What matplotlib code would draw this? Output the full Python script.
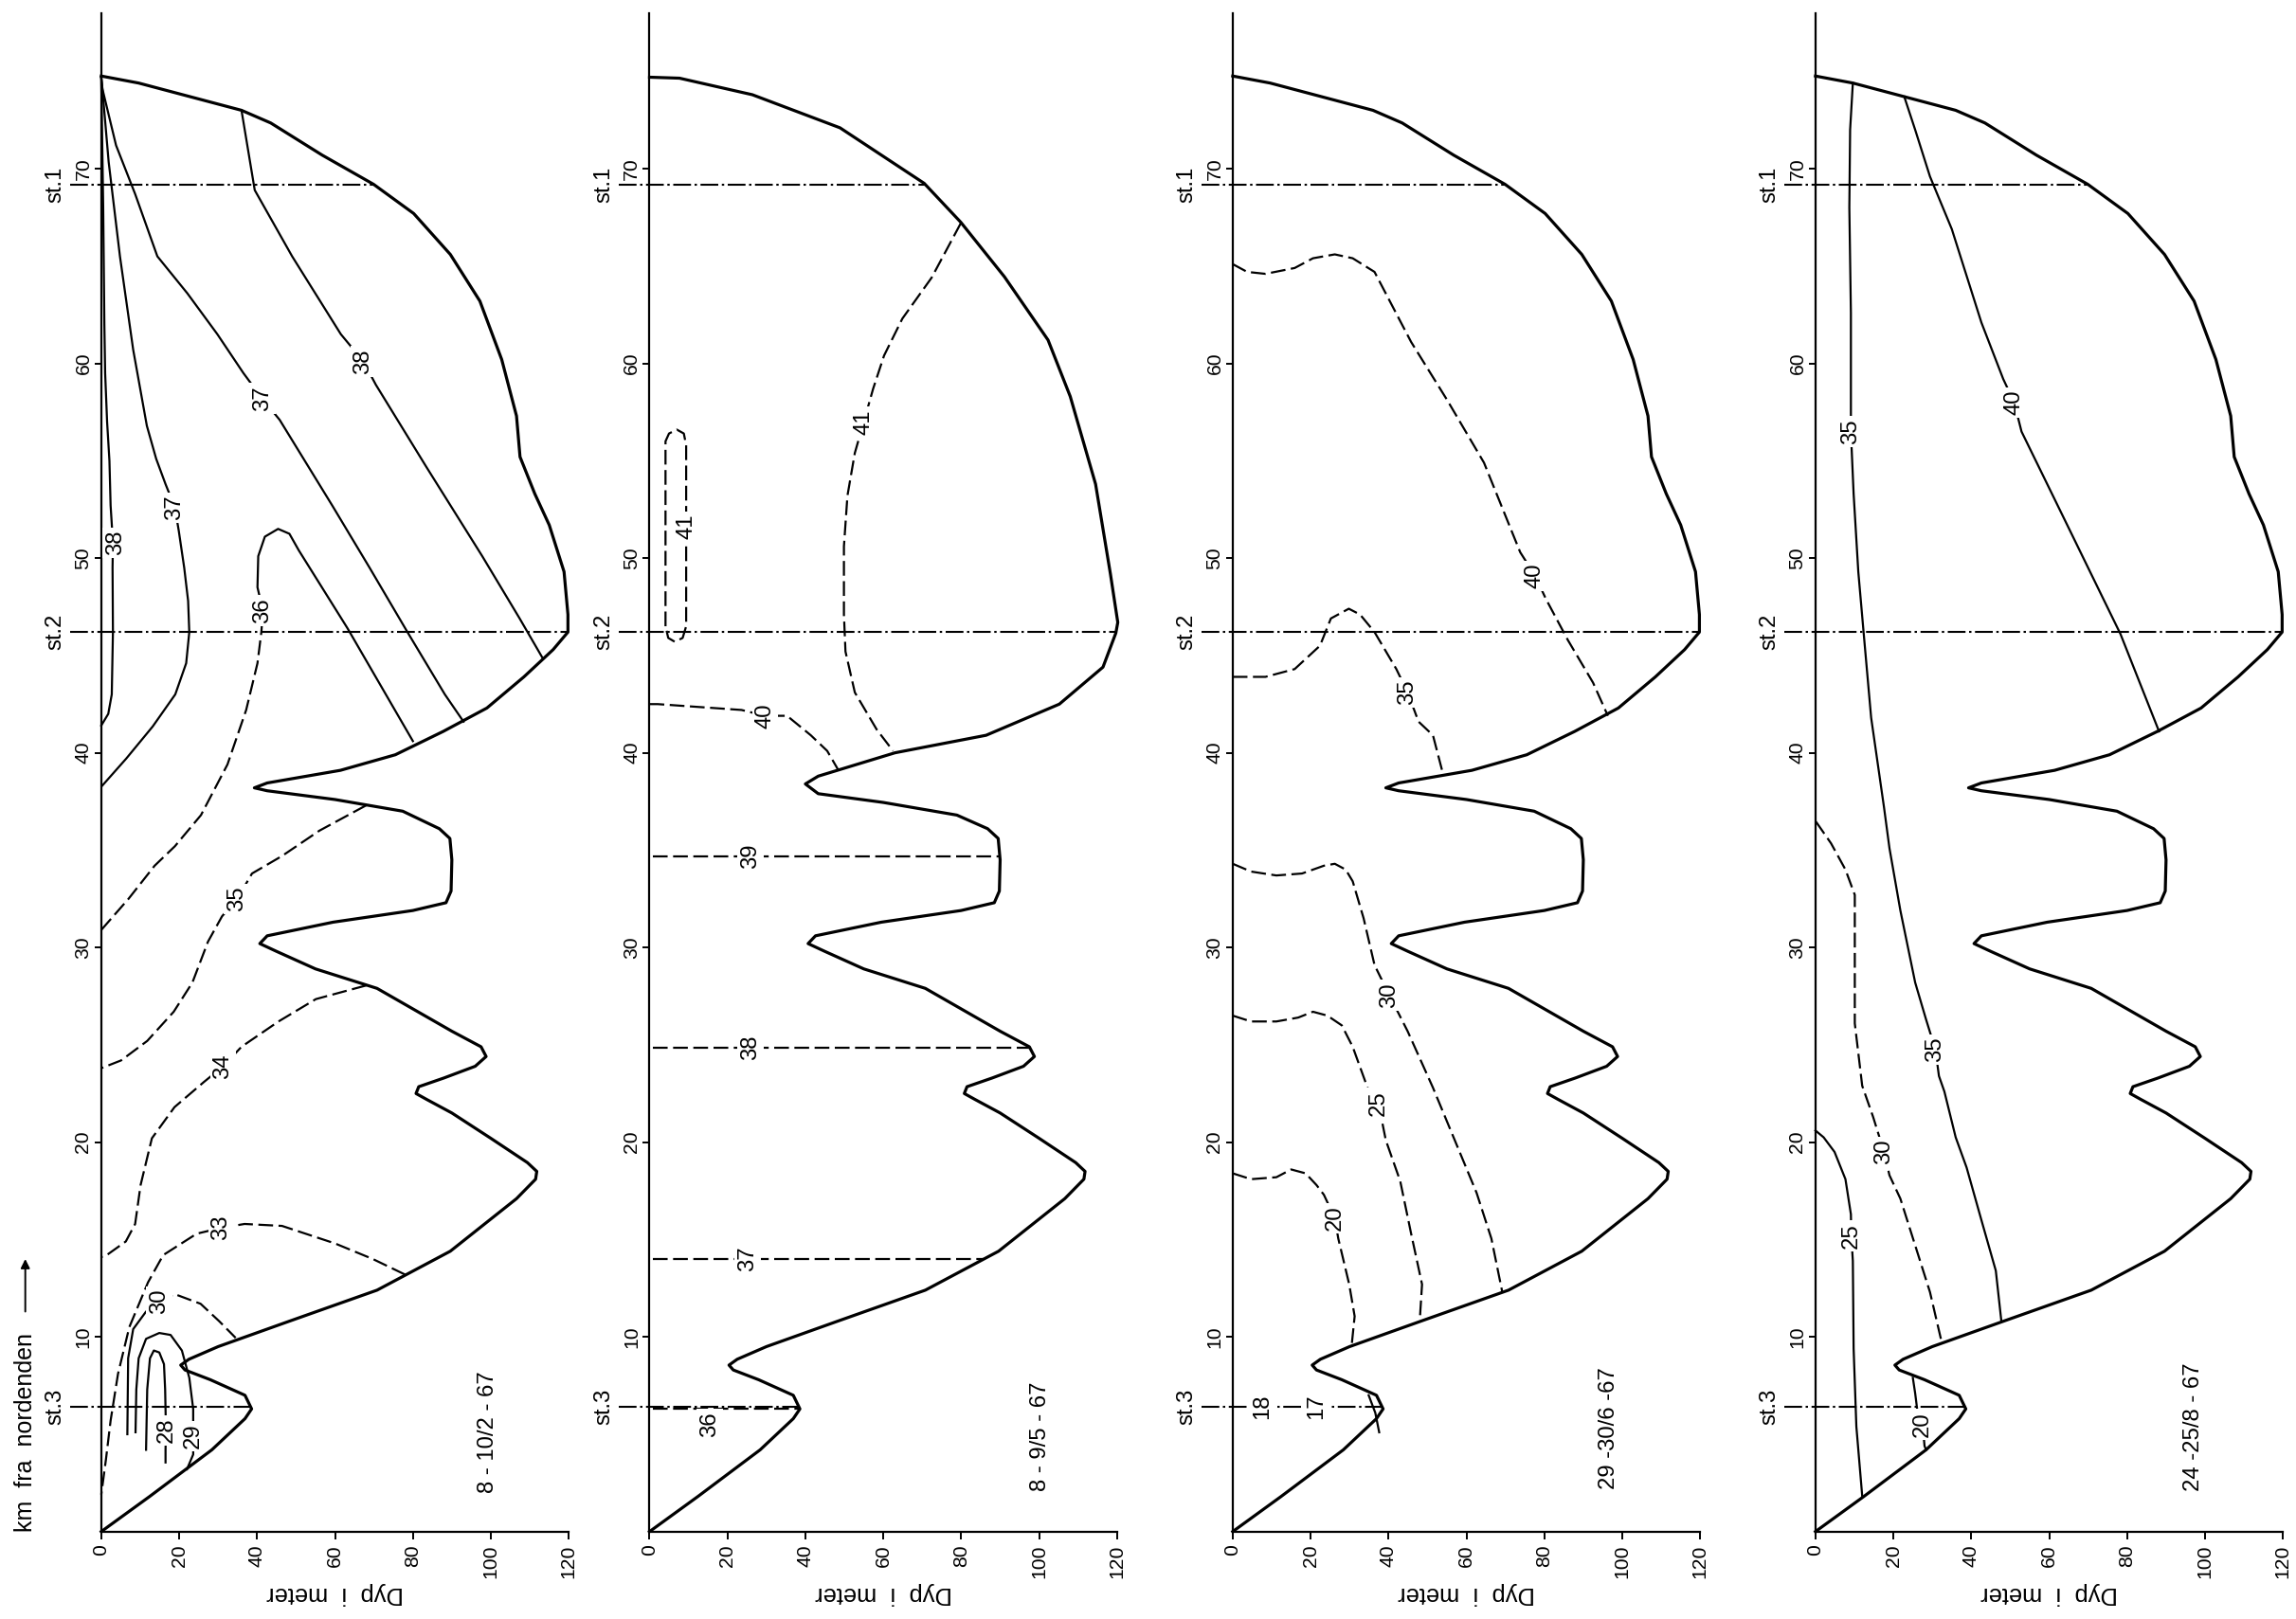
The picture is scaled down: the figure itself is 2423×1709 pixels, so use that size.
import numpy as np
import matplotlib
matplotlib.use("Agg")
import matplotlib.pyplot as plt

plt.rcParams['font.family'] = ['Liberation Sans', 'DejaVu Sans']

# ------------------------------------------------------------------ data
km_ticks = [10, 20, 30, 40, 50, 60, 70]
depth_ticks = [0, 20, 40, 60, 80, 100, 120]
station_names = ['st.3', 'st.2', 'st.1']
station_km = [6.4, 46.2, 69.2]
panel_dates = ['8 - 10/2 - 67', '8 - 9/5 - 67', '29 -30/6 -67', '24 -25/8 - 67']
date_pos = [(99.2, 5.1), (100.4, 4.9), (96.7, 5.3), (97.2, 5.4)]

# bottom profile (depth m, km) -- southern part shared by all panels
bottom_south = [(0, 0), (12.4, 1.8), (28.4, 4.2), (36.9, 5.8), (38.6, 6.3), (36.9, 7.0),
                (28.0, 7.8), (21.5, 8.3), (20.4, 8.55), (22.5, 8.85), (30.0, 9.5),
                (48.2, 10.8), (70.8, 12.4), (89.6, 14.4), (106.6, 17.1), (111.5, 18.1),
                (111.8, 18.5), (109.4, 18.95), (100, 20.2), (90, 21.5), (83.5, 22.2),
                (80.8, 22.5), (81.5, 22.85), (88, 23.3), (96, 23.9), (98.8, 24.4),
                (97.5, 24.9), (90, 25.7), (70.8, 27.9), (55, 28.9), (45, 29.8),
                (40.7, 30.2), (42.6, 30.6), (59.5, 31.3), (80, 31.9), (88.5, 32.3),
                (89.8, 32.9), (90, 34.5), (89.5, 35.6), (86.8, 36.1)]
# northern part, panels 1, 3, 4
bottom_north_a = [(77.4, 37.0), (60, 37.6), (42.6, 38.05), (39.3, 38.2), (42.6, 38.45),
                  (61.4, 39.1), (75.5, 39.9), (87.8, 41.1), (99, 42.3), (108.5, 43.9),
                  (116, 45.3), (119.8, 46.2), (119.8, 47.1), (118.8, 49.3), (115, 51.7),
                  (111.3, 53.3), (107.5, 55.2), (106.6, 57.3), (102.8, 60.2), (97.2, 63.2),
                  (89.6, 65.6), (80.2, 67.7), (69.9, 69.2), (56.7, 70.7), (43.5, 72.35),
                  (36, 73.0), (22.8, 73.7), (9.6, 74.4), (0, 74.76)]
# northern part, panel 2
bottom_north_b = [(78.9, 36.8), (60, 37.45), (43.3, 37.9), (40, 38.4), (43.3, 38.8),
                  (63, 40.0), (86.4, 40.9), (105.2, 42.5), (116.4, 44.4), (119.7, 46.15),
                  (120.2, 46.7), (118.3, 49.2), (114.5, 53.8), (108, 58.3), (102.3, 61.2),
                  (91.1, 64.45), (79.9, 67.25), (70.5, 69.25), (48.9, 72.1), (26.4, 73.8),
                  (7.7, 74.65), (0, 74.7)]

# ---- panel 1 (8-10/2-67) isolines (depth, km)
p1_38a = [(0, 74.7), (0.5, 68), (0.8, 62), (1.0, 59.5), (1.5, 57.0), (2.1, 55.0), (2.4, 52.7),
          (3.0, 50.8), (2.9, 49.5), (3.0, 46.2), (2.7, 43.0), (1.8, 42.0), (0.3, 41.5), (0, 41.4)]
p1_37a = [(0, 74.7), (0.2, 74.3), (1.9, 70.35), (4.8, 65.5), (8.2, 60.7), (11.7, 56.8),
          (14.1, 55.1), (16.5, 53.8), (18.9, 52.6), (19.9, 51.4), (21.3, 49.5), (22.3, 47.8),
          (22.6, 46.2), (21.8, 44.6), (19.0, 43.0), (13.2, 41.35), (6.4, 39.7), (0.2, 38.3)]
p1_37b = [(0, 74.7), (0.3, 74.1), (3.8, 71.2), (8.7, 68.7), (14.4, 65.5), (22.1, 63.6),
          (29.8, 61.5), (36.5, 59.5), (41.3, 58.2), (45.8, 57.1), (59.3, 52.7), (68.9, 49.5),
          (78.6, 46.2), (88.2, 43.0), (93.0, 41.6)]
p1_38b = [(36, 73.0), (39.4, 68.9), (49, 65.5), (61.5, 61.5), (67.3, 60.1), (70.5, 58.9),
          (83.4, 54.7), (97.8, 50.1), (107.4, 46.9), (113.2, 44.9)]
p1_36_dash = [(0, 30.9), (7, 32.5), (13.7, 34.2), (18.9, 35.2), (25.6, 36.8), (32.4, 39.4),
              (37.2, 42.2), (40.1, 44.6), (41.1, 46.2), (41.5, 47.3)]
p1_36_solid = [(41.5, 47.3), (40.1, 48.5), (40.3, 50.1), (42, 51.1), (45.4, 51.5),
               (48.3, 51.25), (50.7, 50.4), (63.2, 46.4), (80, 40.6)]
p1_35 = [(68, 37.3), (56, 36.0), (46.4, 34.7), (38.7, 33.8), (34.9, 32.5), (31, 31.6),
         (27.4, 30.3), (23.4, 28.2), (18.6, 26.7), (11.8, 25.2), (5.1, 24.2), (0, 23.8)]
p1_34 = [(68, 28.05), (55.1, 27.35), (45.5, 26.2), (36, 24.9), (31.3, 23.9), (26.4, 23.1),
         (18.8, 21.8), (13, 20.2), (10.1, 17.8), (8.7, 15.8), (6.3, 14.9), (1.4, 14.2), (0, 14.1)]
p1_33 = [(78, 13.2), (69.7, 14.0), (60, 14.8), (46.4, 15.7), (36.8, 15.8), (30.8, 15.6),
         (24.5, 15.3), (15.9, 14.2), (12, 12.8), (7.2, 10.5), (4.3, 8.1), (2.4, 5.7),
         (1.2, 3.7), (0, 1.9)]
p1_30_dash = [(14.9, 11.8), (18.8, 12.2), (25.5, 11.7), (30.3, 10.8), (34.5, 9.95)]
p1_30_solid = [(14.9, 11.8), (11.5, 11.3), (8.2, 10.4), (6.9, 8.9), (6.7, 5.0)]
p1_29 = [(22.0, 3.2), (23.6, 3.96), (23.6, 4.9), (23.6, 6.3), (22.6, 7.9), (20.7, 9.3),
         (17.8, 10.1), (14.9, 10.2), (11.5, 9.9), (9.6, 8.9), (9.0, 7.3), (8.8, 5.1)]
p1_28 = [(16.5, 3.55), (16.5, 4.2), (16.6, 5.2), (16.5, 6.3), (16.4, 7.3), (16.1, 8.6),
         (14.9, 9.2), (13.5, 9.3), (12.5, 8.9), (11.8, 7.3), (11.5, 4.2)]
p1_labels = [('38', 3.7, 50.8), ('37', 18.9, 52.6), ('37', 41.3, 58.2), ('38', 67.3, 60.1),
             ('36', 41.5, 47.3), ('35', 34.9, 32.5), ('34', 31.3, 23.9), ('33', 30.8, 15.6),
             ('30', 14.9, 11.8), ('28', 16.8, 5.2), ('29', 23.6, 4.9)]

# ---- panel 2 (8-9/5-67)
p2_iso_values = ['36', '37', '38', '39']
p2_iso_km = [6.3, 14.0, 24.85, 34.7]
p2_iso_label_depth = [15.5, 25.2, 26.0, 26.0]
p2_iso_label_km = [5.5, 14.0, 24.85, 34.7]
p2_40 = [(0, 42.5), (2.1, 42.5), (23.6, 42.2), (29.7, 41.9), (35.3, 41.9), (41.4, 40.9),
         (45.6, 40.1), (48.5, 39.1)]
p2_41 = [(79.9, 67.2), (72.4, 64.4), (64.9, 62.3), (60.2, 60.4), (57.4, 58.7), (55, 57),
         (52.7, 55.4), (50.8, 53.2), (49.9, 50.6), (49.9, 47.1), (50.3, 45.2), (52.7, 43.1),
         (58.3, 41.2), (62.5, 40.1)]
p2_41_loop = [(4.1, 46.5), (4.1, 51), (4.1, 56), (5, 56.4), (7, 56.6), (8.8, 56.4),
              (9.4, 55.8), (9.4, 51.6), (9.4, 46.5), (8.5, 45.9), (6.5, 45.7), (4.8, 45.9),
              (4.1, 46.5)]
p2_labels = [('40', 29.7, 41.9), ('41', 55, 57), ('41', 9.5, 51.6)]

# ---- panel 3 (29-30/6-67)
p3_40 = [(0, 65.1), (3.7, 64.7), (8.4, 64.6), (15.9, 64.9), (20.6, 65.4), (26.2, 65.6),
         (30.8, 65.4), (36.4, 64.7), (45.8, 61.1), (55.1, 58.1), (64.5, 54.9), (73.8, 50.3),
         (77.6, 49.1), (80.4, 47.9), (86, 45.8), (92.5, 43.6), (96.3, 41.9)]
p3_35 = [(0, 43.9), (8.4, 43.9), (15.9, 44.3), (22.4, 45.5), (25.2, 46.9), (29.8, 47.4),
         (32.7, 47.1), (36.4, 46.2), (42, 44.3), (44.9, 43.1), (47.7, 41.6), (51.4, 40.9),
         (54, 38.9)]
p3_30 = [(0, 34.3), (4.7, 33.9), (11.2, 33.7), (17.8, 33.8), (23.4, 34.2), (26.2, 34.3),
         (29, 34), (30.8, 33.4), (33.6, 31.5), (36.4, 29.1), (40.2, 27.55), (44.9, 25.7),
         (51.4, 22.8), (57, 20.1), (62.6, 17.4), (66.4, 15.05), (69.2, 12.3)]
p3_25 = [(0, 26.5), (4.7, 26.2), (11.2, 26.2), (16.8, 26.4), (20.6, 26.7), (24.3, 26.5),
         (28, 26), (30.8, 24.9), (34.6, 22.8), (37.4, 22), (39.3, 20.1), (43, 18),
         (45.8, 15.3), (48.6, 12.7), (48.0, 10.8)]
p3_20 = [(0, 18.4), (4.7, 18.1), (11.2, 18.2), (15, 18.6), (18.7, 18.4), (21.5, 17.8),
         (23.4, 17.3), (26.2, 16.1), (27.1, 15.05), (29.9, 12.7), (31.3, 11.06), (30.5, 9.5)]
p3_17 = [(34.9, 7.0), (36.6, 6.1), (37.6, 5.1)]
p3_labels = [('40', 77.6, 49.1), ('35', 44.9, 43.1), ('30', 40.2, 27.55), ('25', 37.4, 22.0),
             ('20', 26.2, 16.1), ('18', 7.5, 6.4), ('17', 21.5, 6.4)]

# ---- panel 4 (24-25/8-67)
p4_20 = [(25, 7.9), (25.6, 7.1), (26.1, 6.3), (27.5, 5.55), (28, 4.4), (28.4, 4.2)]
p4_25 = [(12, 1.84), (10.5, 5.4), (9.8, 9.4), (9.6, 13.9), (9.2, 15.2), (9.1, 16.3),
         (7.7, 18.1), (4.9, 19.5), (2.1, 20.25), (0, 20.6)]
p4_30 = [(32.2, 9.9), (29.4, 12.3), (25.6, 14.7), (21.8, 17.1), (19, 18.3), (17.6, 19.5),
         (14.8, 21.3), (12, 22.9), (10.1, 26.1), (10.1, 29.8), (10.1, 32.7), (7.7, 34.0),
         (4, 35.35), (0.7, 36.3), (0, 36.5)]
p4_35 = [(47.7, 10.85), (46.3, 13.4), (42.6, 16), (38.8, 18.7), (36, 20.25), (33.1, 22.6),
         (31.7, 23.4), (30.8, 24.75), (28.4, 26.3), (25.6, 28.2), (21.8, 31.9), (19, 35.1),
         (17.6, 37.2), (14.3, 41.8), (12.4, 46.1), (11, 49.3), (9.8, 53.3), (9.1, 56.5),
         (9.1, 58.6), (9.1, 62.6), (8.7, 68), (8.9, 72), (9.6, 74.4)]
p4_40 = [(88.2, 41.1), (78.3, 46.1), (66.1, 51.1), (52.9, 56.5), (51, 58), (48.2, 59.2),
         (42.6, 62.1), (35, 66.9), (29.4, 69.6), (25.6, 72), (22.8, 73.7)]
p4_labels = [('20', 27.5, 5.5), ('25', 9.2, 15.2), ('30', 17.6, 19.5), ('35', 30.8, 24.75),
             ('35', 9.1, 56.5), ('40', 51, 58)]

# ------------------------------------------------------------------ styles
DASH = (0, (7, 2.6))
DASHDOT = (0, (9, 1.8, 1.2, 1.8))
FS_TICK = 7.6
FS_LAB = 8.6

panel_lines = [
    [(p1_38a, '-'), (p1_37a, '-'), (p1_37b, '-'), (p1_38b, '-'), (p1_36_dash, DASH),
     (p1_36_solid, '-'), (p1_35, DASH), (p1_34, DASH), (p1_33, DASH), (p1_30_dash, DASH),
     (p1_30_solid, '-'), (p1_29, '-'), (p1_28, '-')],
    [(p2_40, DASH), (p2_41, DASH), (p2_41_loop, DASH)],
    [(p3_40, DASH), (p3_35, DASH), (p3_30, DASH), (p3_25, DASH), (p3_20, DASH), (p3_17, '-')],
    [(p4_20, '-'), (p4_25, '-'), (p4_30, DASH), (p4_35, '-'), (p4_40, '-')],
]
panel_labels = [p1_labels, p2_labels, p3_labels, p4_labels]
panel_north = [bottom_north_a, bottom_north_b, bottom_north_a, bottom_north_a]

W, H = 2423, 1709
fig = plt.figure(figsize=(W / 200, H / 200), dpi=200)
lefts = [0.0441, 0.2829, 0.5369, 0.7907]
ax_w, ax_b, ax_h = 0.2036, 0.0540, 0.938


def xy(pts):
    return [p[0] for p in pts], [p[1] for p in pts]


for i in range(4):
    ax = fig.add_axes([lefts[i], ax_b, ax_w, ax_h])
    ax.set_xlim(0, 120)
    ax.set_ylim(0, 78)
    for s in ('top', 'right'):
        ax.spines[s].set_visible(False)
    for s in ('left', 'bottom'):
        ax.spines[s].set_linewidth(0.8)
    ax.set_xticks(depth_ticks)
    ax.set_yticks(km_ticks)
    ax.set_xticklabels([str(t) for t in depth_ticks], rotation=90, ha='center', va='top',
                       fontsize=FS_TICK)
    ax.set_yticklabels([str(t) for t in km_ticks], rotation=90, ha='right', va='center',
                       fontsize=FS_TICK)
    ax.tick_params(axis='x', direction='out', length=3.0, width=0.7, pad=2.0)
    ax.tick_params(axis='y', direction='out', length=2.4, width=0.7, pad=1.0)

    # bottom profile
    prof = bottom_south + panel_north[i]
    pd, pk = xy(prof)
    ax.plot(pd, pk, color='black', lw=1.15, zorder=6, clip_on=False,
            solid_joinstyle='round')

    # stations
    for name, km in zip(station_names, station_km):
        dend = np.interp(km, pk, pd)
        ax.plot([-8, dend], [km, km], color='black', lw=0.75, linestyle=DASHDOT,
                zorder=2, clip_on=False)
        ax.text(-11.8, km, name, rotation=90, ha='center', va='center',
                fontsize=FS_LAB, clip_on=False)

    # isolines
    for pts, ls in panel_lines[i]:
        d, k = xy(pts)
        ax.plot(d, k, color='black', lw=0.8, linestyle=ls, zorder=3, clip_on=False,
                solid_joinstyle='round')
    if i == 1:
        for val, km in zip(p2_iso_values, p2_iso_km):
            dend = np.interp(km, pk, pd)
            ax.plot([0.8, dend], [km, km], color='black', lw=0.8, linestyle=DASH, zorder=3)
    labs = panel_labels[i]
    if i == 1:
        labs = labs + [(v, d, k) for v, d, k in zip(p2_iso_values, p2_iso_label_depth,
                                                    p2_iso_label_km)]
    for s, d, k in labs:
        ax.text(d, k, s, rotation=90, ha='center', va='center', fontsize=FS_LAB, zorder=5,
                bbox=dict(boxstyle='square,pad=0.12', fc='white', ec='none'))

    # date
    ax.text(date_pos[i][0], date_pos[i][1], panel_dates[i], rotation=90, ha='center',
            va='center', fontsize=FS_LAB)
    # depth axis title (upside down)
    ax.text(60, -0.041, 'Dyp  i  meter', rotation=180, ha='center', va='center',
            fontsize=9.2, transform=ax.get_xaxis_transform())

    if i == 0:
        ax.text(-19.5, 0.0, 'km  fra  nordenden', rotation=90, ha='center', va='bottom',
                fontsize=9.0, clip_on=False)
        ax.annotate('', xy=(-19.5, 14.0), xytext=(-19.5, 11.3),
                    arrowprops=dict(arrowstyle='-|>', lw=0.7, color='black',
                                    mutation_scale=7, shrinkA=0, shrinkB=0),
                    annotation_clip=False)

fig.savefig('out.png', dpi=200, facecolor='white')
